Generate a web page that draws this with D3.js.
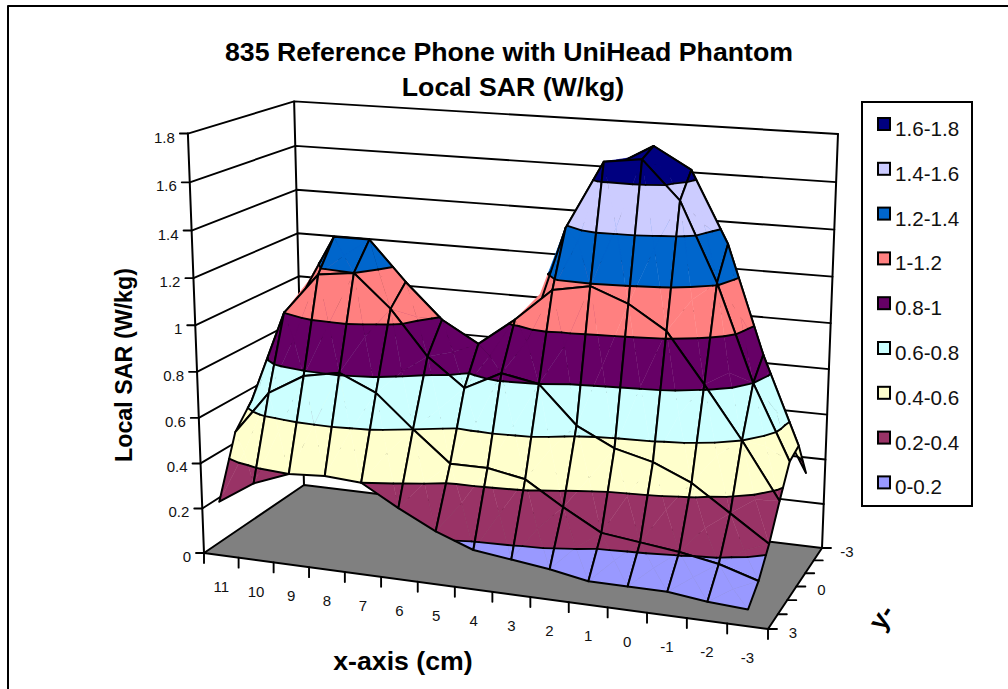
<!DOCTYPE html>
<html>
<head>
<meta charset="utf-8">
<script src="https://d3js.org/d3.v7.min.js"></script>
<style>
  body { margin: 0; background: #fff; }
  text { font-family: "Liberation Sans", Arial, sans-serif; fill: #111; }
  .tick-label { font-size: 15px; }
  .bold { font-weight: bold; fill: #000; }
</style>
</head>
<body>
<div class="chart"></div>
<script>
var svgWidth = 1008;
var svgHeight = 689;

// x-axis categories (cm), one value per column
var xCats = [11, 10, 9, 8, 7, 6, 5, 4, 3, 2, 1, 0, -1, -2, -3];
// y-axis categories, front of the plot to the back
var yCats = [3, 2, 1, 0, -1, -2, -3];
var yLabels = [3, 0, -3];
var zTicks = [0, 0.2, 0.4, 0.6, 0.8, 1, 1.2, 1.4, 1.6, 1.8];

// local SAR (W/kg), one array per y value
var sarY3 = [0.24, 0.34, 0.40, 0.41, 0.40, 0.31, 0.23, 0.17, 0.15, 0.13, 0.10, 0.10, 0.10, 0.08, 0.07];
var sarY2 = [0.50, 0.69, 0.78, 0.81, 0.74, 0.60, 0.47, 0.47, 0.44, 0.34, 0.25, 0.23, 0.21, 0.18, 0.13];
var sarY1 = [0.60, 1.00, 1.18, 1.20, 1.06, 0.87, 0.75, 0.83, 0.80, 0.64, 0.56, 0.52, 0.45, 0.34, 0.23];
var sarY0 = [0.70, 1.03, 1.31, 1.31, 1.14, 0.99, 0.90, 1.02, 1.16, 1.19, 1.13, 1.03, 0.82, 0.60, 0.36];
var sarYm1 = [0.55, 0.85, 1.05, 1.05, 0.95, 0.85, 0.80, 0.90, 1.39, 1.68, 1.70, 1.54, 1.21, 0.80, 0.48];
var sarYm2 = [0.40, 0.65, 0.85, 0.85, 0.80, 0.72, 0.70, 0.78, 1.15, 1.64, 1.73, 1.64, 1.34, 0.88, 0.50];
var sarYm3 = [0.30, 0.45, 0.60, 0.62, 0.60, 0.55, 0.55, 0.60, 0.85, 1.15, 1.25, 1.15, 0.95, 0.62, 0.33];
var sarRows = [sarY3, sarY2, sarY1, sarY0, sarYm1, sarYm2, sarYm3];

// legend order is top to bottom, the bands are 0.2 wide
var bandLabels = ["1.6-1.8", "1.4-1.6", "1.2-1.4", "1-1.2", "0.8-1", "0.6-0.8", "0.4-0.6", "0.2-0.4", "0-0.2"];
var bandColors = ["#000080", "#ccccff", "#0066cc", "#ff8080", "#660066", "#ccffff", "#ffffcc", "#993366", "#9999ff"];
var bandStep = 0.2;

// view of the plot box, fitted to its corners in the picture
var camera = [
  [499.0519, 129.6762, -25.45923, 204],
  [22.80679, -20.65476, -426.0691, 553],
  [-0.0845679, 0.09761905, -0.04970478, 1]
];

var svg = d3.select(".chart")
  .append("svg")
  .attr("width", svgWidth)
  .attr("height", svgHeight)
  .style("display", "block");

var uScale = d3.scaleBand().domain(xCats).range([0, 1]);
var vScale = d3.scalePoint().domain(yCats).range([0, 1]);
var zScale = d3.scaleLinear().domain([0, 1.8]).range([0, 1]);

function project(u, v, z) {
  var w = zScale(z);
  var r = camera.map(m => m[0] * u + m[1] * v + m[2] * w + m[3]);
  return [r[0] / r[2], r[1] / r[2]];
}

var lineGen = d3.line();

function strokeLine(g, pts, width) {
  g.append("path")
    .attr("d", lineGen(pts))
    .attr("fill", "none")
    .attr("stroke", "#000")
    .attr("stroke-width", width)
    .attr("stroke-linejoin", "round")
    .attr("stroke-linecap", "round");
}

// chart frame, only top and left are inside the picture
strokeLine(svg, [[8, svgHeight + 4], [8, 6], [svgWidth + 4, 6]], 2);

// title
svg.append("text").attr("class", "bold").attr("x", 509).attr("y", 61)
  .attr("text-anchor", "middle").style("font-size", "26.7px")
  .text("835 Reference Phone with UniHead Phantom");
svg.append("text").attr("class", "bold").attr("x", 513).attr("y", 96)
  .attr("text-anchor", "middle").style("font-size", "26.7px")
  .text("Local SAR (W/kg)");

// walls
var walls = svg.append("g");
zTicks.forEach(function(z) {
  var pts = [project(0, 0, z), project(0, 1, z), project(1, 1, z)];
  if (z > 0) strokeLine(walls, pts, 1.9);
  strokeLine(walls, [[pts[0][0] - 8, pts[0][1]], pts[0]], 1.9);
  walls.append("text")
    .attr("class", "tick-label")
    .attr("x", pts[0][0] - 13)
    .attr("y", pts[0][1] + 9)
    .attr("text-anchor", "end")
    .text(z);
});
strokeLine(walls, [project(0, 0, 0), project(0, 0, 1.8)], 2);
strokeLine(walls, [project(0, 1, 0), project(0, 1, 1.8)], 2);
strokeLine(walls, [project(1, 1, 0), project(1, 1, 1.8)], 2);

// floor
svg.append("path")
  .attr("d", lineGen([project(0, 0, 0), project(1, 0, 0), project(1, 1, 0), project(0, 1, 0)]) + "Z")
  .attr("fill", "#808080")
  .attr("stroke", "#000")
  .attr("stroke-width", 2)
  .attr("stroke-linejoin", "round");

// x ticks sit on the band edges, the labels in the band centres
var axes = svg.append("g");
xCats.forEach(function(c, i) {
  var u0 = uScale(c);
  var p = project(u0, 0, 0);
  strokeLine(axes, [p, [p[0], p[1] + 10]], 1.9);
  if (i === xCats.length - 1) {
    var e = project(1, 0, 0);
    strokeLine(axes, [e, [e[0], e[1] + 10]], 1.9);
  }
  var m = project(u0 + uScale.bandwidth() / 2, 0, 0);
  axes.append("text")
    .attr("class", "tick-label")
    .attr("x", m[0])
    .attr("y", m[1] + 36.5)
    .attr("text-anchor", "middle")
    .text(c);
});

// y ticks
yCats.forEach(function(c) {
  var p = project(1, vScale(c), 0);
  strokeLine(axes, [p, [p[0] + 9, p[1]]], 1.9);
  if (yLabels.indexOf(c) >= 0) {
    axes.append("text")
      .attr("class", "tick-label")
      .attr("x", p[0] + 25)
      .attr("y", p[1] + 9)
      .attr("text-anchor", "middle")
      .text(c);
  }
});

// axis titles
svg.append("text").attr("class", "bold")
  .attr("transform", "translate(403,670)")
  .attr("text-anchor", "middle").style("font-size", "26.7px")
  .text("x-axis (cm)");
svg.append("text").attr("class", "bold")
  .attr("transform", "translate(132,365) rotate(-90)")
  .attr("text-anchor", "middle").style("font-size", "23.3px")
  .text("Local SAR (W/kg)");
svg.append("text").attr("class", "bold")
  .attr("transform", "translate(889,622) rotate(-57)")
  .attr("text-anchor", "middle").style("font-size", "26.7px")
  .text("y-");

// cuts a polygon of [u, v, z] points to one side of a z level
function clipZ(poly, level, keepAbove) {
  var out = [];
  poly.forEach(function(a, i) {
    var b = poly[(i + 1) % poly.length];
    var aIn = keepAbove ? a[2] >= level : a[2] <= level;
    var bIn = keepAbove ? b[2] >= level : b[2] <= level;
    if (aIn) out.push(a);
    if (aIn !== bIn) {
      var t = (level - a[2]) / (b[2] - a[2]);
      out.push([a[0] + (b[0] - a[0]) * t, a[1] + (b[1] - a[1]) * t, level]);
    }
  });
  return out;
}

// both ends of a z level inside a triangle
function levelSegment(tri, level) {
  var pts = [];
  tri.forEach(function(a, i) {
    var b = tri[(i + 1) % 3];
    if ((a[2] < level) !== (b[2] < level)) {
      var t = (level - a[2]) / (b[2] - a[2]);
      pts.push([a[0] + (b[0] - a[0]) * t, a[1] + (b[1] - a[1]) * t, level]);
    }
  });
  return pts;
}

function toScreen(pt) {
  return project(pt[0], pt[1], pt[2]);
}

// surface, painted from the back row to the front and from left to right
var surface = svg.append("g");
var half = uScale.bandwidth() / 2;
var triOrder = [[2, 3], [3, 0], [1, 2], [0, 1]];

d3.range(yCats.length - 2, -1, -1).forEach(function(r) {
  d3.range(0, xCats.length - 1).forEach(function(c) {
    var v0 = vScale(yCats[r]), v1 = vScale(yCats[r + 1]);
    var u0 = uScale(xCats[c]) + half, u1 = uScale(xCats[c + 1]) + half;
    var corners = [
      [u0, v0, sarRows[r][c]],
      [u1, v0, sarRows[r][c + 1]],
      [u1, v1, sarRows[r + 1][c + 1]],
      [u0, v1, sarRows[r + 1][c]]
    ];
    var mid = [(u0 + u1) / 2, (v0 + v1) / 2, d3.mean(corners, d => d[2])];
    // far triangle first
    triOrder.forEach(function(e) {
      var tri = [mid, corners[e[0]], corners[e[1]]];
      bandColors.forEach(function(color, k) {
        var lo = (bandColors.length - 1 - k) * bandStep;
        var poly = clipZ(clipZ(tri, lo, true), lo + bandStep, false);
        if (poly.length < 3) return;
        // thin stroke keeps the seams between triangles faint
        surface.append("path")
          .attr("d", lineGen(poly.map(toScreen)) + "Z")
          .attr("fill", color)
          .attr("stroke", color)
          .attr("stroke-width", 0.4);
      });
    });
    // band boundaries
    triOrder.forEach(function(e) {
      var tri = [mid, corners[e[0]], corners[e[1]]];
      zTicks.forEach(function(level) {
        var seg = levelSegment(tri, level);
        if (seg.length === 2) strokeLine(surface, seg.map(toScreen), 1.9);
      });
    });
    // grid lines of the cell
    strokeLine(surface, corners.concat([corners[0]]).map(toScreen), 2);
  });
});

// legend
var legend = svg.append("g");
legend.append("rect")
  .attr("x", 862).attr("y", 102)
  .attr("width", 110).attr("height", 404)
  .attr("fill", "#fff").attr("stroke", "#000").attr("stroke-width", 2);
bandLabels.forEach(function(label, i) {
  var top = 118 + i * 44.8;
  legend.append("rect")
    .attr("x", 878).attr("y", top)
    .attr("width", 12).attr("height", 12)
    .attr("fill", bandColors[i])
    .attr("stroke", "#000").attr("stroke-width", 2);
  legend.append("text")
    .attr("x", 895).attr("y", top + 18)
    .style("font-size", "20.6px")
    .text(label);
});
</script>
</body>
</html>
